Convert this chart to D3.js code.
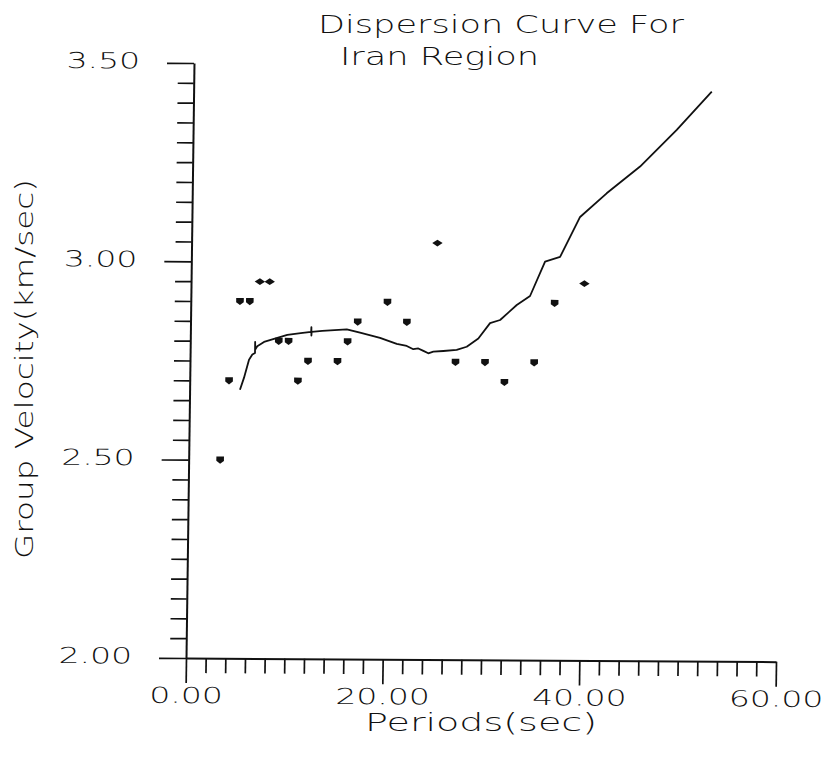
<!DOCTYPE html>
<html>
<head>
<meta charset="utf-8">
<script src="https://cdn.jsdelivr.net/npm/d3@7"></script>
<style>
  html, body { margin: 0; padding: 0; background: #fff; }
  svg { display: block; }
  text { font-family: "DejaVu Sans", "Open Sans", sans-serif; font-weight: 200; fill: #111; }
</style>
</head>
<body>
<svg id="chart" width="822" height="760"></svg>
<script>
// Observed group velocities (period in s, velocity in km/s)
const obsPeriods    = [3.2, 4, 5, 6, 7, 8, 9, 10, 11, 12, 15, 16, 17, 20, 22, 25, 27, 30, 32, 35, 37, 40];
const obsVelocities = [2.50, 2.70, 2.90, 2.90, 2.95, 2.95, 2.80, 2.80, 2.70, 2.75, 2.75, 2.80, 2.85, 2.90, 2.85, 3.05, 2.75, 2.75, 2.70, 2.75, 2.90, 2.95];
const obsMarker     = ["sq", "sq", "sq", "sq", "dm", "dm", "sq", "sq", "sq", "sq", "sq", "sq", "sq", "sq", "sq", "dm", "sq", "sq", "sq", "sq", "sq", "dm"];

// Theoretical dispersion curve
const curvePeriods    = [5.12, 5.51, 6.00, 6.33, 6.60, 6.60, 6.62, 6.82, 7.50, 8.51, 9.86, 11.22, 12.28, 12.30, 12.31, 12.33, 13.41, 15.90, 17.25, 19.29, 21.00, 22.02, 22.69, 23.20, 23.72, 24.22, 24.73, 25.75, 27.10, 28.12, 29.29, 30.46, 31.48, 33.15, 34.49, 35.97, 37.49, 39.47, 42.14, 45.50, 49.18, 52.69];
const curveVelocities = [2.677, 2.707, 2.753, 2.766, 2.770, 2.798, 2.779, 2.787, 2.798, 2.806, 2.816, 2.821, 2.824, 2.836, 2.815, 2.824, 2.827, 2.831, 2.823, 2.810, 2.795, 2.790, 2.782, 2.784, 2.778, 2.772, 2.776, 2.778, 2.781, 2.789, 2.810, 2.849, 2.857, 2.895, 2.918, 3.005, 3.017, 3.118, 3.178, 3.246, 3.339, 3.436];

// Axis ticks
const xMajorTicks  = [0, 20, 40, 60];
const xTickLabels  = ["0.00", "20.00", "40.00", "60.00"];
const xMinorStep   = 2;
const yMajorTicks  = [2.0, 2.5, 3.0, 3.5];
const yTickLabels  = ["2.00", "2.50", "3.00", "3.50"];
const yMinorStep   = 0.05;

const titleLines = ["Dispersion Curve For", "Iran Region"];
const xTitle = "Periods(sec)";
const yTitle = "Group Velocity(km/sec)";

const svg = d3.select("#chart");

const x = d3.scaleLinear().domain([0, 60]).range([186, 776]);
const y = d3.scaleLinear().domain([2.0, 3.5]).range([658, 63]);

const xMinor = d3.range(0, 60 + 1e-9, xMinorStep).filter(v => !xMajorTicks.includes(v));
const yMinor = d3.range(0, 30 + 1).map(i => +(2.0 + i * yMinorStep).toFixed(2)).filter(v => !yMajorTicks.includes(v));

// the plotted frame is slightly sheared, as on the printed plot
const plot = svg.append("g")
  .attr("transform", "matrix(1,0.00627,-0.01345,1,8.85,-1.166)");

// widen glyphs for the plotter-style lettering
function stretch(sel, k) {
  sel.each(function () {
    const w = this.getComputedTextLength();
    d3.select(this).attr("textLength", w * k).attr("lengthAdjust", "spacingAndGlyphs");
  });
}

// y axis: minor ticks
plot.append("g")
  .attr("transform", `translate(${x(0)},0)`)
  .call(d3.axisLeft(y).tickValues(yMinor).tickSize(16).tickSizeOuter(0).tickFormat(""))
  .call(g => g.select(".domain").remove());

// y axis: major ticks + labels
const yAx = plot.append("g")
  .attr("transform", `translate(${x(0)},0)`)
  .call(d3.axisLeft(y).tickValues(yMajorTicks).tickSize(27).tickSizeOuter(0).tickPadding(27)
        .tickFormat((d, i) => yTickLabels[i]));

// x axis: minor ticks
plot.append("g")
  .attr("transform", `translate(0,${y(2.0)})`)
  .call(d3.axisBottom(x).tickValues(xMinor).tickSize(15).tickSizeOuter(0).tickFormat(""))
  .call(g => g.select(".domain").remove());

// x axis: major ticks + labels
const xAx = plot.append("g")
  .attr("transform", `translate(0,${y(2.0)})`)
  .call(d3.axisBottom(x).tickValues(xMajorTicks).tickSize(25).tickSizeOuter(0).tickPadding(5)
        .tickFormat((d, i) => xTickLabels[i]));

plot.selectAll(".domain").attr("stroke", "#111").attr("stroke-width", 2);
plot.selectAll(".tick line").attr("stroke", "#111").attr("stroke-width", 1.7);
plot.selectAll(".tick text")
  .attr("font-family", null).attr("font-size", null)
  .style("font-size", "22px").attr("fill", "#111");
yAx.selectAll(".tick text").attr("dy", "0.24em");
xAx.selectAll(".tick text").attr("dy", "0.68em");
stretch(plot.selectAll(".tick text"), 1.5);

// dispersion curve
const line = d3.line().x(d => x(d[0])).y(d => y(d[1]));
plot.append("path")
  .datum(curvePeriods.map((p, i) => [p, curveVelocities[i]]))
  .attr("d", line)
  .attr("fill", "none")
  .attr("stroke", "#111")
  .attr("stroke-width", 1.8)
  .attr("stroke-linejoin", "round");

// observed points
const markerPath = {
  sq: "M-3.8,-3.4H3.8V1L0,3.8L-3.8,1Z",
  dm: "M-5.2,0L0,-3.4L5.2,0L0,3.4Z"
};
plot.append("g").selectAll("path")
  .data(obsPeriods.map((p, i) => ({p, v: obsVelocities[i], m: obsMarker[i]})))
  .join("path")
  .attr("transform", d => `translate(${x(d.p)},${y(d.v)})`)
  .attr("d", d => markerPath[d.m])
  .attr("fill", "#111");

// titles
svg.append("text").attr("x", 318).attr("y", 33)
  .style("font-size", "25px").attr("textLength", 366).attr("lengthAdjust", "spacingAndGlyphs")
  .text(titleLines[0]);
svg.append("text").attr("x", 340).attr("y", 65)
  .style("font-size", "25px").attr("textLength", 199).attr("lengthAdjust", "spacingAndGlyphs")
  .text(titleLines[1]);

svg.append("text").attr("x", 481).attr("y", 731).attr("text-anchor", "middle")
  .style("font-size", "24px").attr("textLength", 232).attr("lengthAdjust", "spacingAndGlyphs")
  .text(xTitle);

svg.append("text").attr("transform", "translate(33,369) rotate(-90)").attr("text-anchor", "middle")
  .style("font-size", "25px").attr("textLength", 380).attr("lengthAdjust", "spacingAndGlyphs")
  .text(yTitle);
</script>
</body>
</html>
